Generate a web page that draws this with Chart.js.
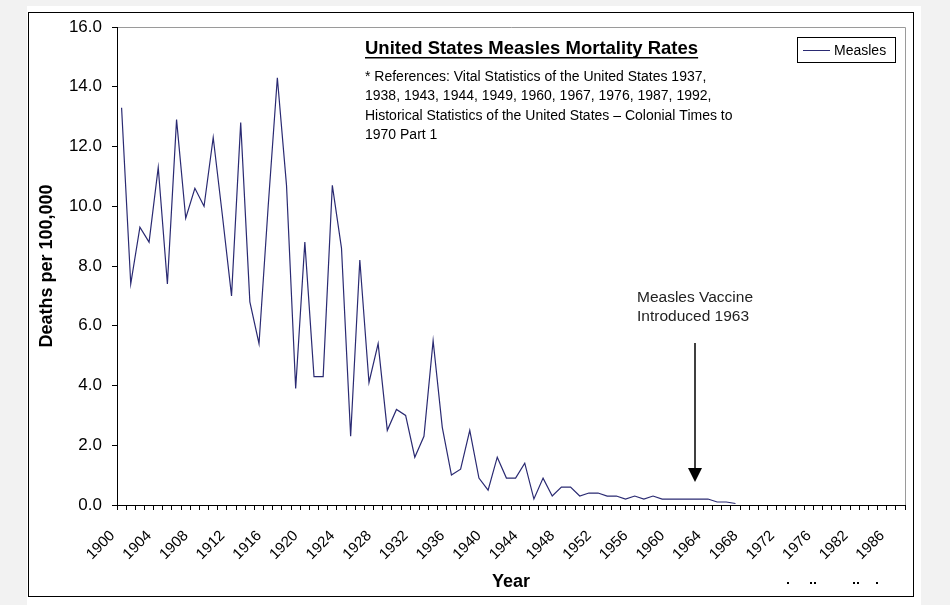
<!DOCTYPE html>
<html>
<head>
<meta charset="utf-8">
<script src="https://cdn.jsdelivr.net/npm/chart.js@4/dist/chart.umd.min.js"></script>
<style>
  html, body { margin: 0; padding: 0; background: #f2f2f2; }
  canvas { display: block; }
</style>
</head>
<body>
<canvas id="measles" width="950" height="605"></canvas>
<script>
// categories (Excel sheet skips a few years near the end)
const years = [];
for (let y = 1900; y <= 1976; y++) years.push(String(y));
years.push("1978", "1979", "1980", "1982", "1983", "1984", "1985", "1986", "1987");

// deaths per 100,000, 1900..1967
const measles = [
  13.3, 7.4, 9.3, 8.8, 11.3, 7.4, 12.9, 9.6, 10.6, 10.0,
  12.3, 9.7, 7.0, 12.8, 6.8, 5.4, 10.0, 14.3, 10.7, 3.9,
  8.8, 4.3, 4.3, 10.7, 8.6, 2.3, 8.2, 4.1, 5.4, 2.5,
  3.2, 3.0, 1.6, 2.3, 5.5, 2.6, 1.0, 1.2, 2.5, 0.9,
  0.5, 1.6, 0.9, 0.9, 1.4, 0.2, 0.9, 0.3, 0.6, 0.6,
  0.3, 0.4, 0.4, 0.3, 0.3, 0.2, 0.3, 0.2, 0.3, 0.2,
  0.2, 0.2, 0.2, 0.2, 0.2, 0.1, 0.1, 0.05
];
while (measles.length < years.length) measles.push(null);

const yTicks = [0, 2, 4, 6, 8, 10, 12, 14, 16];
const labelEvery = 4;

const title = "United States Measles Mortality Rates";
const refLines = [
  "* References: Vital Statistics of the United States 1937,",
  "1938, 1943, 1944, 1949, 1960, 1967, 1976, 1987, 1992,",
  "Historical Statistics of the United States \u2013 Colonial Times to",
  "1970 Part 1"
];
const note = ["Measles Vaccine", "Introduced 1963"];

const FONT = "'Liberation Sans', Arial, sans-serif";
const LINE = "#2a2a72";

/* frame, titles, notes */
const decor = {
  id: "decor",
  beforeDraw(chart) {
    const c = chart.ctx;
    c.save();
    c.fillStyle = "#f2f2f2";
    c.fillRect(0, 0, 950, 605);
    c.fillStyle = "#fff";
    c.fillRect(27, 6, 894, 599);
    c.strokeStyle = "#000";
    c.lineWidth = 1;
    c.strokeRect(28.5, 12.5, 885, 584);
    // plot area border (top + right)
    const a = chart.chartArea;
    c.strokeStyle = "#9a9a9a";
    c.beginPath();
    c.moveTo(a.left, a.top + 0.5);
    c.lineTo(a.right + 0.5, a.top + 0.5);
    c.lineTo(a.right + 0.5, a.bottom);
    c.stroke();
    c.restore();
  },
  afterDraw(chart) {
    const c = chart.ctx;
    c.save();
    c.fillStyle = "#000";
    c.textBaseline = "alphabetic";

    // chart title, underlined
    c.font = "bold 18.5px " + FONT;
    c.textAlign = "left";
    c.fillText(title, 365, 54);
    const tw = c.measureText(title).width;
    c.fillRect(365, 57, tw, 1.5);

    c.font = "14px " + FONT;
    refLines.forEach((t, i) => c.fillText(t, 365, 81 + i * 19.3));

    // legend
    c.strokeStyle = "#000";
    c.lineWidth = 1;
    c.strokeRect(797.5, 37.5, 98, 25);
    c.strokeStyle = LINE;
    c.beginPath();
    c.moveTo(803, 50.5);
    c.lineTo(830, 50.5);
    c.stroke();
    c.font = "14px " + FONT;
    c.fillText("Measles", 834, 55);

    // axis titles
    c.font = "bold 18px " + FONT;
    c.textAlign = "center";
    c.fillText("Year", 511, 587);
    c.save();
    c.translate(52, 266);
    c.rotate(-Math.PI / 2);
    c.fillText("Deaths per 100,000", 0, 0);
    c.restore();

    // vaccine note + arrow
    c.textAlign = "left";
    c.font = "15.5px " + FONT;
    c.fillStyle = "#222";
    c.fillText(note[0], 637, 302);
    c.fillText(note[1], 637, 321);
    c.strokeStyle = "#000";
    c.lineWidth = 1.5;
    c.beginPath();
    c.moveTo(695, 343);
    c.lineTo(695, 470);
    c.stroke();
    c.fillStyle = "#000";
    c.beginPath();
    c.moveTo(688, 468);
    c.lineTo(702, 468);
    c.lineTo(695, 482);
    c.closePath();
    c.fill();

    // leftover specks of cropped text
    [787, 810, 814, 853, 857, 876].forEach(x => c.fillRect(x, 582, 2, 2));
    c.restore();
  }
};

new Chart(document.getElementById("measles"), {
  type: "line",
  data: {
    labels: years,
    datasets: [{
      label: "Measles",
      data: measles,
      borderColor: LINE,
      borderWidth: 1.2,
      pointRadius: 0,
      tension: 0,
      spanGaps: false
    }]
  },
  options: {
    responsive: false,
    animation: false,
    devicePixelRatio: 1,
    layout: { padding: { top: 27, right: 45, left: 0, bottom: 0 } },
    plugins: {
      legend: { display: false },
      tooltip: { enabled: false }
    },
    scales: {
      x: {
        type: "category",
        offset: true,
        afterFit: s => { s.height = 100; },
        grid: { offset: true, drawOnChartArea: false, drawTicks: true, tickLength: 5, color: "#000" },
        border: { color: "#000", width: 1 },
        ticks: {
          autoSkip: false,
          minRotation: 45,
          maxRotation: 45,
          padding: 17,
          labelOffset: -9,
          color: "#000",
          font: { family: FONT, size: 15 },
          callback: (v, i) => (i % labelEvery === 0 ? years[i] : "")
        }
      },
      y: {
        min: yTicks[0],
        max: yTicks[yTicks.length - 1],
        afterFit: s => { s.width = 117; },
        afterBuildTicks: s => { s.ticks = yTicks.map(v => ({ value: v })); },
        grid: { drawOnChartArea: false, drawTicks: true, tickLength: 5, color: "#000" },
        border: { color: "#000", width: 1 },
        ticks: {
          padding: 10,
          color: "#000",
          font: { family: FONT, size: 17 },
          callback: v => v.toFixed(1)
        }
      }
    }
  },
  plugins: [decor]
});
</script>
</body>
</html>
